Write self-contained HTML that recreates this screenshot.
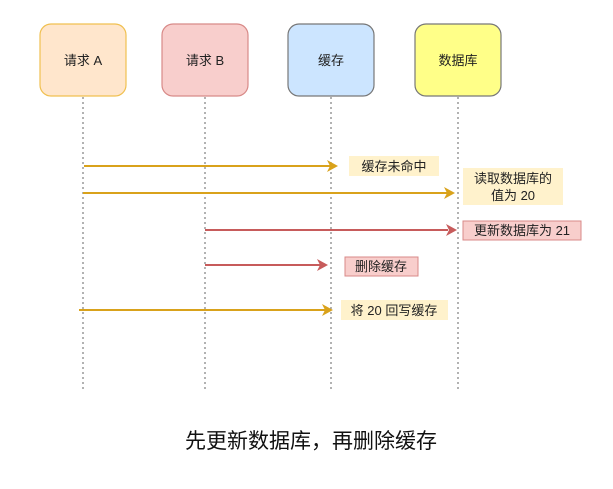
<!DOCTYPE html>
<html><head><meta charset="utf-8"><style>
body{margin:0;background:#fff;}
svg text{font-family:"Liberation Sans","Noto Sans CJK SC",sans-serif;}
</style></head><body>
<svg width="613" height="484" viewBox="0 0 613 484" xmlns="http://www.w3.org/2000/svg">
<g stroke="#666" stroke-width="1" stroke-dasharray="2,3">
<line x1="83" y1="97" x2="83" y2="390"/>
<line x1="205" y1="97" x2="205" y2="390"/>
<line x1="331" y1="97" x2="331" y2="390"/>
<line x1="458" y1="97" x2="458" y2="390"/>
</g>
<rect x="40" y="24" width="86" height="72" rx="11" fill="#ffe6cc" stroke="#f0c050" stroke-width="1.2"/>
<rect x="162" y="24" width="86" height="72" rx="11" fill="#f8cecc" stroke="#d88a88" stroke-width="1.2"/>
<rect x="288" y="24" width="86" height="72" rx="11" fill="#cce5ff" stroke="#777" stroke-width="1.2"/>
<rect x="415" y="24" width="86" height="72" rx="11" fill="#ffff88" stroke="#777" stroke-width="1.2"/>
<g font-size="13" fill="#222" text-anchor="middle">
<text x="83" y="65">请求 A</text>
<text x="205" y="65">请求 B</text>
<text x="331" y="65">缓存</text>
<text x="458" y="65">数据库</text>
</g>
<g stroke-width="2" fill="none">
<line x1="84" y1="166" x2="330" y2="166" stroke="#d9a21b"/>
<line x1="83" y1="193" x2="447" y2="193" stroke="#d9a21b"/>
<line x1="205" y1="230" x2="448" y2="230" stroke="#c75b5b"/>
<line x1="205" y1="265" x2="320" y2="265" stroke="#c75b5b"/>
<line x1="79" y1="310" x2="326" y2="310" stroke="#d9a21b"/>
</g>
<g>
<polygon points="338,166 327,160 330,166 327,172" fill="#d9a21b"/>
<polygon points="455,193 444,187 447,193 444,199" fill="#d9a21b"/>
<polygon points="457,230 446,224 449,230 446,236" fill="#c75b5b"/>
<polygon points="328,265 317,259 320,265 317,271" fill="#c75b5b"/>
<polygon points="333,310 322,304 325,310 322,316" fill="#d9a21b"/>
</g>
<rect x="349" y="156" width="90" height="20" fill="#fff2cc"/>
<rect x="463" y="168" width="100" height="37" fill="#fff2cc"/>
<rect x="463" y="221" width="118" height="19" fill="#f8cecc" stroke="#d88a88"/>
<rect x="345" y="257" width="73" height="19" fill="#f8cecc" stroke="#d88a88"/>
<rect x="341" y="300" width="107" height="20" fill="#fff2cc"/>
<g font-size="13" fill="#222" text-anchor="middle">
<text x="394" y="171">缓存未命中</text>
<text x="513" y="183">读取数据库的</text>
<text x="513" y="200">值为 20</text>
<text x="522" y="235">更新数据库为 21</text>
<text x="381" y="271">删除缓存</text>
<text x="394" y="315">将 20 回写缓存</text>
</g>
<text x="311" y="448" font-size="21" fill="#111" text-anchor="middle">先更新数据库，再删除缓存</text>
</svg>
</body></html>
